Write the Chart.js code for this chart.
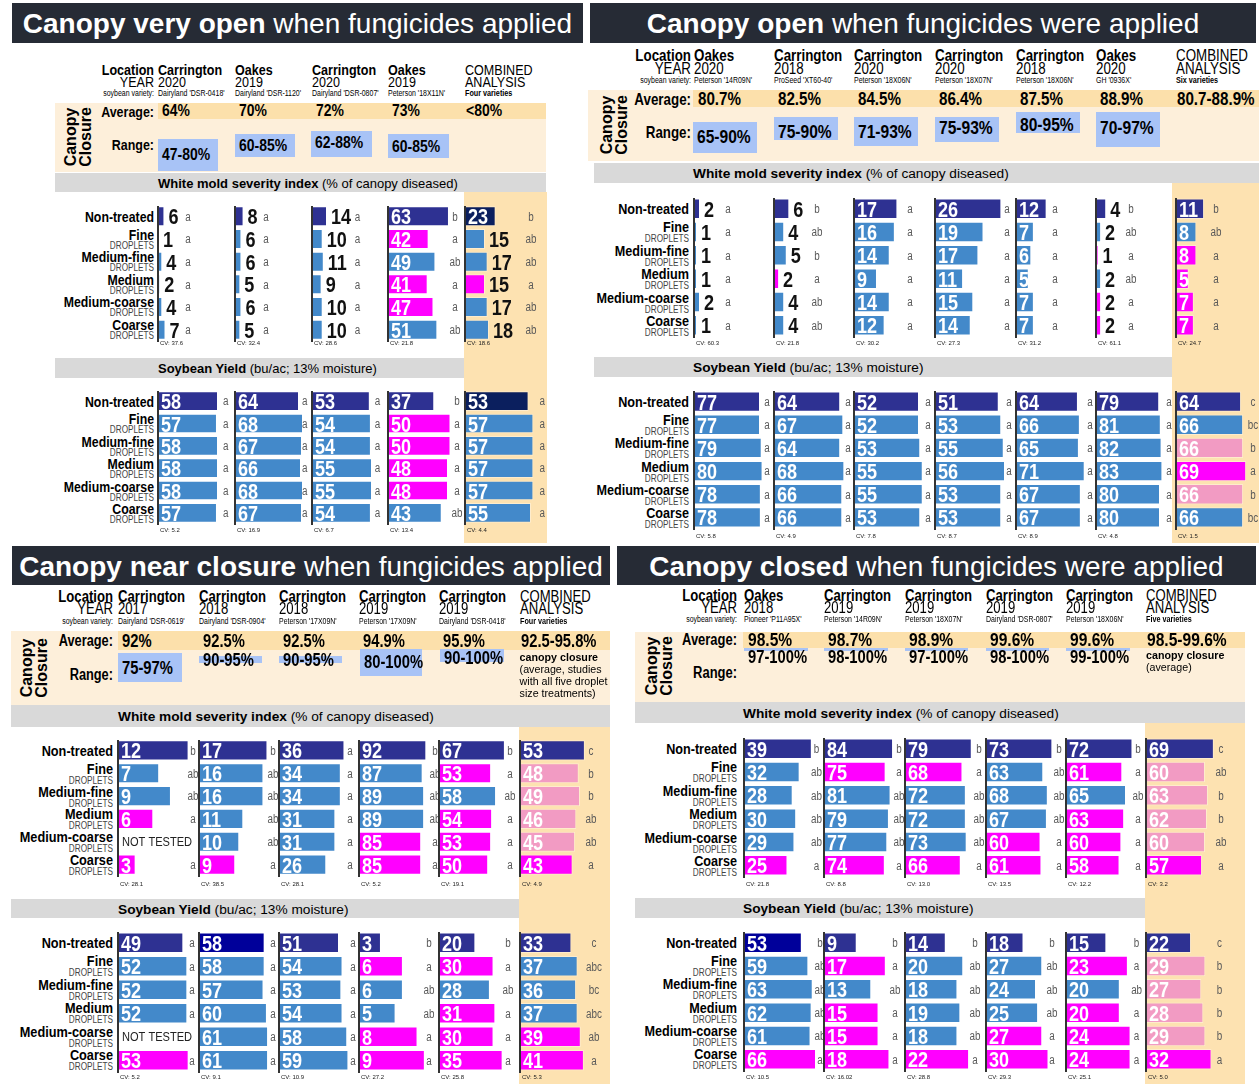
<!DOCTYPE html>
<html>
<head>
<meta charset="utf-8">
<script src="https://cdn.jsdelivr.net/npm/chart.js@4.4.1/dist/chart.umd.min.js"></script>
<style>
  html, body { margin: 0; padding: 0; background: #fff; }
  #page { position: relative; width: 1259px; height: 1084px; overflow: hidden; background: #fff; }
  .t { position: absolute; white-space: nowrap; line-height: 1; }
  .r { position: absolute; }
  canvas { position: absolute; }
</style>
</head>
<body>
<div id="page"></div>
<script>
const treatments = ['Non-treated', 'Fine', 'Medium-fine', 'Medium', 'Medium-coarse', 'Coarse'];

// ---- panel 1: canopy very open
const p1Title = ['Canopy very open', ' when fungicides applied'];
const p1Locations = ['Carrington', 'Oakes', 'Carrington', 'Oakes'];
const p1Years = ['2020', '2019', '2020', '2019'];
const p1Varieties = ["Dairyland 'DSR-0418'", "Dairyland 'DSR-1120'", "Dairyland 'DSR-0807'", "Peterson '18X11N'"];
const p1Combined = 'Four varieties';
const p1Average = ['64%', '70%', '72%', '73%', '<80%'];
const p1Range = ['47-80%', '60-85%', '62-88%', '60-85%'];
const p1Note = [];
const p1Mold = [[6, 1, 4, 2, 4, 7], [8, 6, 6, 5, 6, 5], [14, 10, 11, 9, 10, 10], [63, 42, 49, 41, 47, 51], [23, 15, 17, 15, 17, 18]];
const p1MoldLetters = ['a a a a a a', 'a a a a a a', 'a a a a a a', 'b a ab a a ab', 'b ab ab a ab ab'];
const p1MoldTones = ['NBBBBB', 'NBBBBB', 'NBBBBB', 'NMBMMB', 'DBBMBB'];
const p1MoldCV = ['37.6', '32.4', '28.6', '21.8', '18.6'];
const p1MoldMax = [56, 56, 56, 62, 45];
const p1Yield = [[58, 57, 58, 58, 58, 57], [64, 68, 67, 66, 68, 67], [53, 54, 54, 55, 55, 54], [37, 50, 50, 48, 48, 43], [53, 57, 57, 57, 57, 55]];
const p1YieldLetters = ['a a a a a a', 'a a a a a a', 'a a a a a a', 'b a a a a ab', 'a a a a a a'];
const p1YieldTones = ['NBBBBB', 'NBBBBB', 'NBBBBB', 'NMMMMB', 'DBBBBB'];
const p1YieldCV = ['5.2', '16.9', '6.7', '13.4', '4.4'];
const p1YieldMax = [58, 60, 55, 48, 50];

// ---- panel 2: canopy open
const p2Title = ['Canopy open', ' when fungicides were applied'];
const p2Locations = ['Oakes', 'Carrington', 'Carrington', 'Carrington', 'Carrington', 'Oakes'];
const p2Years = ['2020', '2018', '2020', '2020', '2018', '2020'];
const p2Varieties = ["Peterson '14R09N'", "ProSeed 'XT60-40'", "Peterson '18X06N'", "Peterson '18X07N'", "Peterson '18X06N'", "GH '0936X'"];
const p2Combined = 'Six varieties';
const p2Average = ['80.7%', '82.5%', '84.5%', '86.4%', '87.5%', '88.9%', '80.7-88.9%'];
const p2Range = ['65-90%', '75-90%', '71-93%', '75-93%', '80-95%', '70-97%'];
const p2Note = [];
const p2Mold = [[2, 1, 1, 1, 2, 1], [6, 4, 5, 2, 4, 4], [17, 16, 14, 9, 14, 12], [26, 19, 17, 11, 15, 14], [12, 7, 6, 5, 7, 7], [4, 2, 1, 2, 2, 2], [11, 8, 8, 5, 7, 7]];
const p2MoldLetters = ['a a a a a a', 'b ab b a ab ab', 'a a a a a a', 'a a a a a a', 'a a a a a a', 'b ab a ab a a', 'b ab a a a a'];
const p2MoldTones = ['NBBBBB', 'NBBMBB', 'NBBBBB', 'NBBBBB', 'NBBBBB', 'NBMBMM', 'NBMMMM'];
const p2MoldCV = ['60.3', '21.8', '30.2', '27.3', '31.2', '61.1', '24.7'];
const p2MoldMax = [20, 23.5, 23.5, 23.5, 23.5, 23.5, 23.5];
const p2Yield = [[77, 77, 79, 80, 78, 78], [64, 67, 64, 68, 66, 66], [52, 52, 53, 55, 55, 53], [51, 53, 55, 56, 53, 53], [64, 66, 65, 71, 67, 67], [79, 81, 82, 83, 80, 80], [64, 66, 66, 69, 66, 66]];
const p2YieldLetters = ['a a a a a a', 'a a a a a a', 'a a a a a a', 'a a a a a a', 'a a a a a a', 'a a a a a a', 'c bc b a b bc'];
const p2YieldTones = ['NBBBBB', 'NBBBBB', 'NBBBBB', 'NBBBBB', 'NBBBBB', 'NBBBBB', 'NBPMPB'];
const p2YieldCV = ['5.8', '4.9', '7.8', '8.7', '8.9', '4.8', '1.5'];
const p2YieldMax = [70, 58, 48, 48, 62, 75, 59];

// ---- panel 3: canopy near closure
const p3Title = ['Canopy near closure', ' when fungicides applied'];
const p3Locations = ['Carrington', 'Carrington', 'Carrington', 'Carrington', 'Carrington'];
const p3Years = ['2017', '2018', '2018', '2019', '2019'];
const p3Varieties = ["Dairyland 'DSR-0619'", "Dairyland 'DSR-0904'", "Peterson '17X09N'", "Peterson '17X09N'", "Dairyland 'DSR-0418'"];
const p3Combined = 'Four varieties';
const p3Average = ['92%', '92.5%', '92.5%', '94.9%', '95.9%', '92.5-95.8%'];
const p3Range = ['75-97%', '90-95%', '90-95%', '80-100%', '90-100%'];
const p3Note = ['<b>canopy closure</b>', '(average, studies', 'with all five droplet', 'size treatments)'];
const p3Mold = [[12, 7, 9, 6, null, 3], [17, 16, 16, 11, 10, 9], [36, 34, 34, 31, 31, 26], [92, 87, 89, 89, 85, 85], [67, 53, 58, 54, 53, 50], [53, 48, 49, 46, 45, 43]];
const p3MoldLetters = ['b ab ab a - a', 'b ab ab ab ab a', 'a a a a a a', 'b ab ab ab a a', 'b a ab a a a', 'c b b ab ab a'];
const p3MoldTones = ['NBBM-M', 'NBBBBM', 'NBBBBB', 'NBBBMM', 'NMBMMM', 'NPPPPM'];
const p3MoldCV = ['28.1', '38.5', '28.1', '5.2', '19.1', '4.9'];
const p3MoldMax = [10.2, 14.9, 33, 82, 61, 49];
const p3Yield = [[49, 52, 52, 52, null, 53], [58, 58, 57, 60, 61, 61], [51, 54, 53, 54, 58, 59], [3, 6, 6, 5, 8, 9], [20, 30, 28, 31, 30, 35], [33, 37, 36, 37, 39, 41]];
const p3YieldLetters = ['a a a a - a', 'a a a a a a', 'a a a a a a', 'b a ab ab a a', 'b a ab a a a', 'c abc bc abc ab a'];
const p3YieldTones = ['NBBB-M', 'KBBBBB', 'NBBBBB', 'NMBBMM', 'NMBMMM', 'NBBBMM'];
const p3YieldCV = ['5.2', '9.1', '10.9', '27.2', '25.8', '5.3'];
const p3YieldMax = [45, 53, 51, 8.2, 33, 38.5];

// ---- panel 4: canopy closed
const p4Title = ['Canopy closed', ' when fungicides were applied'];
const p4Locations = ['Oakes', 'Carrington', 'Carrington', 'Carrington', 'Carrington'];
const p4Years = ['2018', '2019', '2019', '2019', '2019'];
const p4Varieties = ["Pioneer 'P11A95X'", "Peterson '14R09N'", "Peterson '18X07N'", "Dairyland 'DSR-0807'", "Peterson '18X06N'"];
const p4Combined = 'Five varieties';
const p4Average = ['98.5%', '98.7%', '98.9%', '99.6%', '99.6%', '98.5-99.6%'];
const p4Range = ['97-100%', '98-100%', '97-100%', '98-100%', '99-100%'];
const p4Note = ['<b>canopy closure</b>', '(average)'];
const p4Mold = [[39, 32, 28, 30, 29, 25], [84, 75, 81, 79, 77, 74], [79, 68, 72, 72, 73, 66], [73, 63, 68, 67, 60, 61], [72, 61, 65, 63, 60, 58], [69, 60, 63, 62, 60, 57]];
const p4MoldLetters = ['b ab ab ab ab a', 'b a ab ab ab a', 'b a ab ab ab a', 'b ab ab ab a a', 'b a ab a a a', 'c ab b b ab a'];
const p4MoldTones = ['NBBBBM', 'NMBBBM', 'NMBBBM', 'NBBBMM', 'NMBMMM', 'NPPPPM'];
const p4MoldCV = ['21.8', '8.8', '13.0', '13.5', '12.2', '3.2'];
const p4MoldMax = [34.5, 73, 71, 66, 65, 61];
const p4Yield = [[53, 59, 63, 62, 61, 66], [9, 17, 13, 15, 15, 18], [14, 20, 18, 19, 18, 22], [18, 27, 24, 25, 27, 30], [15, 23, 20, 20, 24, 24], [22, 29, 27, 28, 29, 32]];
const p4YieldLetters = ['b ab ab ab ab a', 'b a ab a a a', 'b ab ab ab ab a', 'b ab ab ab a a', 'b a ab a a a', 'c b b b b a'];
const p4YieldTones = ['KBBBBM', 'NMBMMM', 'NBBBBM', 'NBBBMM', 'NMBMMM', 'NPPPPM'];
const p4YieldCV = ['10.5', '16.02', '28.8', '29.3', '25.1', '5.0'];
const p4YieldMax = [55, 16.5, 20.6, 28.8, 22.3, 29.3];

// ---- look
const SANS = '"Liberation Sans",Arial,sans-serif';
const SQUEEZE = 0.82; // no narrow face installed, so condense Liberation Sans
const TONE = { N: '#2e3192', D: '#0b1f5e', K: '#00009a', B: '#4389ca', M: '#ff00ff', P: '#f29bc3', '-': '#ffffff' };
const PLOT_W = 60;

// ---- page layout of each panel
const layouts = [
  {
    header: [12, 3, 571, 40], cols: [158, 235, 311.5, 388, 464.6],
    headRight: 153.5, locY: 70, yearY: 82, varY: 93, headFont: 15.3,
    peach: [55, 103, 491, 69], avgBand: [158, 103, 388, 16], avgY: 111, rangeY: 144,
    boxes: [[158, 139, 60, 32, 155], [235, 134, 60, 23, 146], [311, 131, 61, 26, 143], [388, 134, 61, 24, 147]],
    canopy: [78, 137], combined: [464, 192, 83, 351], noteY: [],
    moldBand: [55, 173, 491, 19, 158], yieldBand: [55, 358, 409, 20, 158], bandFont: 13,
    labelRight: 153.5, labelFont: 15, smallFont: 15.2, avgFont: 17, rangeFont: 17,
    mold: { top: 204.7, rowH: 22.6, cvY: 343.5, letters: [30, 31, 45.5, 67, 66], modes: ['auto', 'auto', 'auto', 'in', 'auto'] },
    yield: { top: 389.8, rowH: 22.4, cvY: 530, letters: [67.7, 69.7, 65.5, 69, 77.2], modes: [] }
  },
  {
    header: [590, 3, 666, 40], cols: [693.7, 774, 854, 935, 1016, 1096, 1176],
    headRight: 691, locY: 55, yearY: 68, varY: 80, headFont: 16.3,
    peach: [588, 90, 671, 71], avgBand: [693, 90, 566, 17], avgY: 99, rangeY: 132,
    boxes: [[693, 122, 64, 31, 137], [774, 117, 64, 23, 132], [854, 117, 64, 29, 132], [935, 117, 64, 25, 128], [1016, 112, 64, 21, 125], [1096, 112, 64, 35, 128]],
    canopy: [614, 125], combined: [1172, 183, 87, 360], noteY: [],
    moldBand: [594, 163, 665, 20, 693], yieldBand: [594, 357, 578, 20, 693], bandFont: 13.7,
    labelRight: 688.6, labelFont: 15.4, smallFont: 16.3, avgFont: 18.5, rangeFont: 19,
    mold: { top: 197.3, rowH: 23.4, cvY: 343, letters: [34, 43, 56, 72, 39, 35, 40], modes: ['auto', 'auto', 'auto', 'auto', 'in', 'auto', 'in'] },
    yield: { top: 390.4, rowH: 23.2, cvY: 536, letters: [73, 74, 74, 74, 74, 73, 77], modes: [] }
  },
  {
    header: [12, 546, 598, 39], cols: [117.6, 198.8, 279.2, 358.8, 439.2, 519.6],
    headRight: 113, locY: 597, yearY: 609, varY: 621, headFont: 16,
    peach: [11, 631, 599, 74], avgBand: [118, 631, 492, 19], avgY: 641, rangeY: 675,
    boxes: [[118, 653, 64, 29, 668], [199, 656, 63, 7, 660], [279, 656, 63, 7, 660], [360, 649, 62, 27, 662], [440, 649, 64, 13, 658]],
    canopy: [34, 668], combined: [519, 727, 91, 357], noteY: [657, 669, 681, 693],
    moldBand: [11, 705, 599, 22, 118], yieldBand: [11, 899, 508, 19, 118], bandFont: 13.7,
    labelRight: 112.5, labelFont: 15.5, smallFont: 15.6, avgFont: 18, rangeFont: 18,
    mold: { top: 739.3, rowH: 22.9, cvY: 884, letters: [75, 74, 71, 76, 71, 71], modes: [] },
    yield: { top: 931, rowH: 23.5, cvY: 1077, letters: [74, 74, 74, 70, 69, 74], modes: [] }
  },
  {
    header: [617, 546, 639, 39], cols: [743.5, 824.4, 905, 985.8, 1066, 1146],
    headRight: 737, locY: 596, yearY: 608, varY: 619, headFont: 16,
    peach: [635, 632, 610, 70], avgBand: [743, 632, 502, 16], avgY: 640, rangeY: 673,
    boxes: [[743.5, 648, 64, 3, 657], [824.4, 648, 64, 3, 657], [905, 648, 63, 3, 657], [985.8, 648, 63, 3, 657], [1066, 648, 64, 3, 657]],
    canopy: [659, 666], combined: [1145, 723, 100, 361], noteY: [655, 667],
    moldBand: [635, 702, 610, 21, 743], yieldBand: [635, 898, 510, 20, 743], bandFont: 13.7,
    labelRight: 737.4, labelFont: 15.4, smallFont: 15.8, avgFont: 19, rangeFont: 18,
    mold: { top: 737.3, rowH: 23.4, cvY: 884, letters: [72.5, 75, 74, 73, 72, 75], modes: [] },
    yield: { top: 931, rowH: 23.3, cvY: 1077, letters: [76, 71, 70, 66, 70.6, 73.5], modes: [] }
  }
];

const panels = [
  { title: p1Title, locs: p1Locations, years: p1Years, vars: p1Varieties, combined: p1Combined, avg: p1Average, range: p1Range, note: p1Note,
    mold: { values: p1Mold, letters: p1MoldLetters, tones: p1MoldTones, cv: p1MoldCV, max: p1MoldMax },
    yield: { values: p1Yield, letters: p1YieldLetters, tones: p1YieldTones, cv: p1YieldCV, max: p1YieldMax } },
  { title: p2Title, locs: p2Locations, years: p2Years, vars: p2Varieties, combined: p2Combined, avg: p2Average, range: p2Range, note: p2Note,
    mold: { values: p2Mold, letters: p2MoldLetters, tones: p2MoldTones, cv: p2MoldCV, max: p2MoldMax },
    yield: { values: p2Yield, letters: p2YieldLetters, tones: p2YieldTones, cv: p2YieldCV, max: p2YieldMax } },
  { title: p3Title, locs: p3Locations, years: p3Years, vars: p3Varieties, combined: p3Combined, avg: p3Average, range: p3Range, note: p3Note,
    mold: { values: p3Mold, letters: p3MoldLetters, tones: p3MoldTones, cv: p3MoldCV, max: p3MoldMax },
    yield: { values: p3Yield, letters: p3YieldLetters, tones: p3YieldTones, cv: p3YieldCV, max: p3YieldMax } },
  { title: p4Title, locs: p4Locations, years: p4Years, vars: p4Varieties, combined: p4Combined, avg: p4Average, range: p4Range, note: p4Note,
    mold: { values: p4Mold, letters: p4MoldLetters, tones: p4MoldTones, cv: p4MoldCV, max: p4MoldMax },
    yield: { values: p4Yield, letters: p4YieldLetters, tones: p4YieldTones, cv: p4YieldCV, max: p4YieldMax } }
];

const page = document.getElementById('page');

function rect(x, y, w, h, color) {
  const d = document.createElement('div');
  d.className = 'r';
  d.style.cssText = `left:${x}px;top:${y}px;width:${w}px;height:${h}px;background:${color}`;
  page.appendChild(d);
  return d;
}

// text centred vertically on y; narrow text is squeezed horizontally
function text(x, y, html, font, color, align, narrow) {
  const d = document.createElement('div');
  d.className = 't';
  d.innerHTML = html;
  d.style.left = x + 'px';
  d.style.top = y + 'px';
  d.style.font = font;
  d.style.color = color || '#000';
  const tx = align === 'right' ? '-100%' : align === 'center' ? '-50%' : '0';
  d.style.transformOrigin = align === 'right' ? 'right center' : align === 'center' ? 'center center' : 'left center';
  d.style.transform = `translate(${tx},-50%)` + (narrow ? ` scaleX(${SQUEEZE})` : '');
  page.appendChild(d);
  return d;
}
const ntext = (x, y, html, font, color, align) => text(x, y, html, font, color, align, true);

function squeezed(ctx, s, x, y) {
  ctx.save();
  ctx.translate(x, y);
  ctx.scale(SQUEEZE, 1);
  ctx.fillText(s, 0, 0);
  ctx.restore();
}

// value labels, letter groups, axis line and CV under each small chart
const barLabels = {
  id: 'barLabels',
  afterDatasetsDraw(chart, args, o) {
    const { ctx, chartArea, scales } = chart;
    ctx.save();
    ctx.fillStyle = '#333';
    ctx.fillRect(chartArea.left - 1, chartArea.top + 1, 2, chartArea.bottom - chartArea.top);
    ctx.textBaseline = 'middle';
    const base = scales.x.getPixelForValue(0);
    o.values.forEach((v, i) => {
      const y = scales.y.getPixelForValue(i) + 1;
      ctx.textAlign = 'left';
      if (v == null) {
        ctx.font = `13.5px ${SANS}`;
        ctx.fillStyle = '#222';
        squeezed(ctx, 'NOT TESTED', base + 4, y);
      } else {
        const s = String(v);
        ctx.font = `bold 22px ${SANS}`;
        const tw = ctx.measureText(s).width * SQUEEZE;
        const end = scales.x.getPixelForValue(v);
        const inside = o.mode === 'in' || (o.mode !== 'out' && tw + 6 <= end - base);
        ctx.fillStyle = inside ? '#fff' : '#111';
        squeezed(ctx, s, inside ? base + 3 : end + 4, y + 1);
      }
      const g = o.letters[i];
      if (g && g !== '-') {
        ctx.font = `12px ${SANS}`;
        ctx.fillStyle = '#595959';
        ctx.textAlign = 'center';
        squeezed(ctx, g, chartArea.left + o.letterOff, y);
      }
    });
    ctx.font = `6px ${SANS}`;
    ctx.fillStyle = '#222';
    ctx.textAlign = 'left';
    ctx.fillText('CV: ' + o.cv, chartArea.left + 2, o.cvY);
    ctx.restore();
  }
};

function barSection(L, S, sec) {
  const fontLab = `bold ${L.labelFont}px ${SANS}`;
  treatments.forEach((t, i) => {
    const y = S.top + (i + 0.5) * S.rowH;
    if (i === 0) {
      ntext(L.labelRight, y, t, fontLab, '#000', 'right');
    } else {
      ntext(L.labelRight, y - 5, t, fontLab, '#000', 'right');
      ntext(L.labelRight, y + 6, 'DROPLETS', `10px ${SANS}`, '#444', 'right');
    }
  });

  sec.values.forEach((vals, c) => {
    const W = Math.round(Math.max(PLOT_W + 2, S.letters[c] + 18));
    const plotH = Math.round(6 * S.rowH);
    const H = plotH + 14;
    const top = Math.round(S.top);
    const cv = document.createElement('canvas');
    cv.width = W;
    cv.height = H;
    cv.style.width = W + 'px';
    cv.style.height = H + 'px';
    cv.style.left = Math.round(L.cols[c] - 1) + 'px';
    cv.style.top = top + 'px';
    page.appendChild(cv);

    const tones = sec.tones[c].split('');
    new Chart(cv, {
      type: 'bar',
      data: {
        labels: treatments,
        datasets: [{
          data: vals,
          backgroundColor: tones.map(t => TONE[t]),
          borderColor: 'rgba(255,255,255,0.35)',
          borderWidth: 1,
          barPercentage: 0.88,
          categoryPercentage: 1,
          clip: false
        }]
      },
      options: {
        indexAxis: 'y',
        responsive: false,
        animation: false,
        events: [],
        layout: { padding: { left: 1, right: W - 1 - PLOT_W, top: 0, bottom: 14 } },
        plugins: {
          legend: { display: false },
          tooltip: { enabled: false },
          barLabels: {
            values: vals,
            letters: sec.letters[c].split(' '),
            letterOff: S.letters[c],
            cv: sec.cv[c],
            cvY: S.cvY - top,
            mode: S.modes[c] || 'auto'
          }
        },
        scales: {
          x: { display: false, min: 0, max: sec.max[c] },
          y: { display: false }
        }
      },
      plugins: [barLabels]
    });
  });
}

function buildPanel(L, d) {
  rect(...L.combined, '#fde2b1');
  rect(...L.peach, '#fdefda');
  rect(...L.avgBand, '#fce0ab');

  // title bar
  const h = L.header;
  rect(h[0], h[1], h[2], h[3], '#262b35');
  text(h[0] + h[2] / 2, h[1] + h[3] / 2 + 1, `<b>${d.title[0]}</b>${d.title[1]}`, `28px ${SANS}`, '#fff', 'center');

  // column heads
  const hf = L.headFont;
  ntext(L.headRight, L.locY, 'Location', `bold ${hf}px ${SANS}`, '#000', 'right');
  ntext(L.headRight, L.yearY, 'YEAR', `${hf}px ${SANS}`, '#000', 'right');
  ntext(L.headRight, L.varY, 'soybean variety:', `8.5px ${SANS}`, '#000', 'right');
  d.locs.forEach((loc, i) => {
    ntext(L.cols[i], L.locY, loc, `bold ${hf}px ${SANS}`, '#000');
    ntext(L.cols[i], L.yearY, d.years[i], `${hf}px ${SANS}`, '#000');
    ntext(L.cols[i], L.varY, d.vars[i], `8.5px ${SANS}`, '#000');
  });
  const cx = L.cols[d.locs.length];
  ntext(cx, L.locY, 'COMBINED', `${hf}px ${SANS}`, '#000');
  ntext(cx, L.yearY, 'ANALYSIS', `${hf}px ${SANS}`, '#000');
  ntext(cx, L.varY, d.combined, `bold 8.8px ${SANS}`, '#000');

  // canopy closure block
  const cl = text(L.canopy[0], L.canopy[1], 'Canopy<br>Closure', `bold 16px ${SANS}`, '#000', 'center');
  cl.style.lineHeight = '15px';
  cl.style.textAlign = 'center';
  cl.style.transform = 'translate(-50%,-50%) rotate(-90deg)';
  ntext(L.headRight, L.avgY, 'Average:', `bold ${L.smallFont}px ${SANS}`, '#000', 'right');
  ntext(L.headRight, L.rangeY, 'Range:', `bold ${L.smallFont}px ${SANS}`, '#000', 'right');
  d.avg.forEach((a, i) => {
    const off = i < d.range.length ? 4 : 1;
    ntext(L.cols[i] + off, L.avgY, a, `bold ${L.avgFont}px ${SANS}`, '#000');
  });
  d.range.forEach((r, i) => {
    const b = L.boxes[i];
    rect(b[0], b[1], b[2], b[3], '#a8c3f6');
    ntext(b[0] + 4, b[4], r, `bold ${L.rangeFont}px ${SANS}`, '#000');
  });
  d.note.forEach((n, i) => {
    text(cx, L.noteY[i], n, `10.7px ${SANS}`, '#000');
  });

  // grey section bands
  const mb = L.moldBand, yb = L.yieldBand;
  rect(mb[0], mb[1], mb[2], mb[3], '#d9d9d9');
  text(mb[4], mb[1] + mb[3] / 2, '<b>White mold severity index</b> (% of canopy diseased)', `${L.bandFont}px ${SANS}`, '#000');
  rect(yb[0], yb[1], yb[2], yb[3], '#d9d9d9');
  text(yb[4], yb[1] + yb[3] / 2, '<b>Soybean Yield</b> (bu/ac; 13% moisture)', `${L.bandFont}px ${SANS}`, '#000');

  barSection(L, L.mold, d.mold);
  barSection(L, L.yield, d.yield);
}

panels.forEach((d, i) => buildPanel(layouts[i], d));
</script>
</body>
</html>
